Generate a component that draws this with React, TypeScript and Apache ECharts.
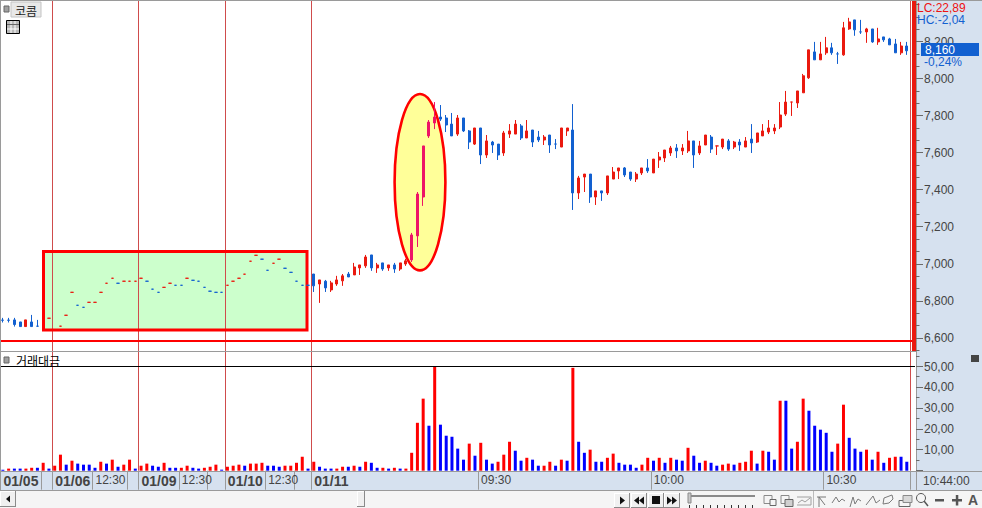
import React, { useEffect, useRef } from "react";
import * as echarts from "echarts";

// [open, close, low, high], one row per bar; null where no mark can be seen
const priceBars: (number[] | null)[] = [
  [6697,6696,6684,6709],[6697,6696,6684,6709],[6698,6673,6662,6709],[6687,6662,6662,6687],[6662,6698,6662,6698],
  [6687,6662,6662,6725],[6664,6664,6662,6698],null,[6707,6707,6707,6707],null,
  [6664,6664,6664,6664],[6723,6723,6723,6723],[6847,6847,6847,6847],[6777,6777,6777,6777],[6766,6766,6766,6766],
  [6793,6793,6793,6793],[6793,6793,6793,6793],[6847,6847,6847,6847],[6896,6896,6896,6896],[6923,6923,6923,6923],
  [6896,6896,6896,6896],[6907,6907,6907,6907],[6907,6907,6907,6907],[6907,6907,6907,6907],[6923,6923,6923,6923],
  [6907,6907,6907,6907],[6864,6864,6864,6864],[6847,6847,6847,6847],[6874,6874,6874,6874],[6896,6896,6896,6896],
  [6885,6885,6885,6885],[6885,6885,6885,6885],[6923,6923,6923,6923],[6912,6912,6912,6912],[6907,6907,6907,6907],
  [6874,6874,6874,6874],[6853,6853,6853,6853],[6847,6847,6847,6847],[6847,6847,6847,6847],[6885,6885,6885,6885],
  [6907,6907,6907,6907],[6923,6923,6923,6923],[6945,6945,6945,6945],[7015,7015,7015,7015],[7047,7047,7047,7047],
  [7026,7026,7026,7026],[6966,6966,6966,6966],[7004,7004,7004,7004],[7026,7026,7026,7026],[6977,6977,6977,6977],
  [6955,6955,6955,6955],[6907,6907,6907,6907],[6885,6885,6885,6885],[6885,6885,6885,6885],[6946,6882,6849,6946],
  [6892,6914,6790,6914],[6907,6871,6849,6914],[6860,6898,6849,6909],[6892,6914,6882,6936],[6909,6936,6882,6946],
  [6946,6930,6930,6957],[6941,6984,6941,7006],[6979,6995,6941,6995],[6990,7038,6979,7049],[7049,6979,6963,7049],
  [6979,6995,6952,7006],[7006,6973,6963,7006],[6979,6995,6963,6995],[6995,6973,6952,7006],[6973,7006,6963,7006],
  [7000,7017,6990,7028],[7022,7157,7011,7168],[7152,7378,7092,7389],[7362,7638,7314,7638],[7692,7767,7681,7778],
  [7762,7794,7729,7875],[7794,7783,7773,7859],[7789,7751,7713,7805],[7756,7692,7692,7816],[7702,7789,7692,7805],
  [7789,7719,7713,7789],[7719,7659,7621,7724],[7648,7735,7643,7735],[7735,7589,7540,7735],[7589,7665,7573,7697],
  [7659,7643,7600,7665],[7648,7589,7562,7648],[7600,7708,7584,7719],[7702,7719,7681,7756],[7702,7756,7702,7778],
  [7746,7681,7670,7756],[7681,7719,7681,7778],[7724,7659,7632,7724],[7686,7670,7659,7719],[7670,7686,7643,7697],
  [7697,7643,7600,7697],[7648,7648,7621,7675],[7632,7735,7632,7735],[7719,7735,7692,7735],[7724,7384,7292,7864],
  [7384,7465,7351,7476],[7470,7486,7389,7486],[7486,7362,7330,7486],[7362,7395,7319,7395],[7395,7384,7341,7395],
  [7384,7476,7373,7476],[7459,7497,7459,7524],[7503,7519,7459,7519],[7519,7481,7470,7524],[7497,7459,7449,7497],
  [7459,7486,7443,7497],[7492,7519,7481,7519],[7519,7503,7492,7567],[7492,7567,7492,7567],[7562,7578,7519,7605],
  [7573,7616,7551,7616],[7600,7627,7584,7638],[7627,7611,7573,7648],[7611,7627,7589,7648],[7611,7665,7600,7719],
  [7665,7589,7519,7665],[7600,7638,7589,7665],[7643,7697,7643,7697],[7686,7621,7600,7697],[7638,7638,7589,7638],
  [7632,7675,7621,7675],[7665,7621,7611,7675],[7632,7659,7621,7665],[7659,7643,7611,7675],[7632,7665,7632,7686],
  [7675,7654,7600,7756],[7659,7708,7654,7708],[7692,7719,7692,7756],[7713,7735,7702,7778],[7719,7735,7702,7756],
  [7740,7805,7729,7875],[7810,7875,7800,7935],[7875,7875,7800,7875],[7870,7935,7843,7935],[7925,8017,7925,8027],
  [8006,8157,8000,8157],[8146,8103,8103,8200],[8103,8135,8103,8200],[8141,8168,8130,8227],[8168,8141,8130,8195],
  [8135,8135,8081,8146],[8130,8276,8125,8308],[8270,8308,8265,8330],[8319,8265,8233,8319],[8254,8254,8243,8319],
  [8254,8270,8195,8276],[8270,8200,8195,8270],[8200,8216,8184,8276],[8227,8211,8200,8227],[8216,8184,8184,8222],
  [8189,8141,8141,8216],[8141,8178,8130,8200],[8178,8152,8130,8200],
];

// r red, b blue, m magenta (inside the ellipse)
const priceBarTones =
  "bbbbrbbbrr" + "rrrbbrrrrr" + "brrrrbbbrr" + "bbrbbbbbbr" + "rrrrrbbrrb" +
  "bbbbbrbrrr" + "brrrbrbrbr" + "rmmmmmbbbr" + "bbrbrbbrrr" + "brbbrbbrrb" +
  "rrbrbrrrbb" + "rrbrrrrbrr" + "brrbrrbrbr" + "brrrrrrrrr" + "rbrrbbrrbb" +
  "rbrbbbrb";

const turnover = [
  0.5,1,1,1,1,1.4,1.4,3.8,1,2.4, 7.7,2.9,4.8,3.4,2.9,2.9,1.4,4.3,3.4,5.3,
  1.9,2.9,5.3,1,2.4,3.4,2.4,1.9,3.8,1.4, 1.4,1.4,2.4,1.4,1,1.4,1.9,2.9,0.5,1.9,
  2.4,2.9,2.4,3.4,3.4,3.8,2.4,2.4,1.9,2.4, 2.4,3.8,6.7,1,4.3,1.9,1,1,1,1.9,
  1.9,2.4,1.9,4.3,3.8,1.4,1.4,1,1.4,1, 1,8.6,23,34.6,21.6,50,22.1,16.8,16.3,10.6,
  5.3,13,7.2,13.4,5.3,3.4,4.3,7.7,13.9,9.6, 4.8,6.2,5.3,2.4,2.4,4.3,2.4,5.3,4.8,49.4,
  13.9,8.6,10.1,4.3,4.3,6.2,8.2,3.8,2.9,2.9, 1.4,2.9,6.2,4.8,6.2,3.8,6.2,5.3,4.8,11,
  7.2,3.8,4.8,3.8,2.4,2.9,3.4,2.9,3.8,4.3, 9.6,3.4,9.6,9.1,5.3,33.6,33.6,10.6,13.9,34.6,
  28.8,21.6,19.7,18.2,9.1,13,31.7,15.8,10.6,9.1, 10.1,5.3,9.1,3.8,6.2,6.7,6.7,4.3,
];

const turnoverTones =
  "brbbrrbrbr" + "rbrbbbbrbr" + "brrbrrbbrb" + "brrbbrrrbr" + "rrbrrrbbbr" +
  "rrrbrbbbrr" + "brbrbbrbrb" + "rrrrbrbbbb" + "brbrbbrrrb" + "brbbrrbrbr" +
  "bbrbbrrbbb" + "brrbrbrbbr" + "bbrbbrrbrr" + "rbrbbrbbrr" + "bbbbbrrbbb" +
  "rbrbrrbb";

const dateStarts = [
  { index: 0, text: "01/05", bold: true },
  { index: 7, text: "", bold: false },
  { index: 9, text: "01/06", bold: true },
  { index: 16, text: "12:30", bold: false },
  { index: 22, text: "", bold: false },
  { index: 24, text: "01/09", bold: true },
  { index: 31, text: "12:30", bold: false },
  { index: 36, text: "", bold: false },
  { index: 39, text: "01/10", bold: true },
  { index: 46, text: "12:30", bold: false },
  { index: 51, text: "", bold: false },
  { index: 54, text: "01/11", bold: true },
  { index: 83, text: "09:30", bold: false },
  { index: 113, text: "10:00", bold: false },
  { index: 143, text: "10:30", bold: false },
];
const sessionStarts = [9, 24, 39, 54];

const priceTicks = [6600, 6800, 7000, 7200, 7400, 7600, 7800, 8000, 8200];
const priceMinorTicks = [
  6533, 6667, 6733, 6867, 6933, 7067, 7133, 7267, 7333, 7467, 7533, 7667, 7733,
  7867, 7933, 8067, 8133, 8267, 8333, 8400,
];
const turnoverTicks = [0, 10, 20, 30, 40, 50];
const turnoverMinorTicks = [5, 15, 25, 35, 45, 55];

const RED = "#ea190f";
const BLUE = "#1260d0";
const MAGENTA = "#ee1466";
const GRAY = "#9a9a9a";
const PANEL = "#d6e1ef";
const INK = "#444444";
const TICK = "#6a6a6a";
const AXIS_FONT = '"Liberation Sans",sans-serif';

const toneColor: Record<string, string> = { r: RED, b: BLUE, m: MAGENTA };
const categories = turnover.map((_, i) => String(i));
const startOf = new Map(dateStarts.map((d) => [d.index, d]));

const rect = (x: number, y: number, w: number, h: number, fill: string, z = 6, stroke?: string) => ({
  type: "rect", z, silent: true,
  shape: { x, y, width: w, height: h },
  style: { fill, stroke, lineWidth: stroke ? 1 : 0 },
});
const line = (x1: number, y1: number, x2: number, y2: number, stroke: string, lineWidth = 1, z = 6) => ({
  type: "line", z, silent: true,
  shape: { x1, y1, x2, y2 },
  style: { stroke, lineWidth },
});
const label = (x: number, y: number, text: string, fill: string, font: string, z = 8, align = "left") => ({
  type: "text", z, silent: true, x, y,
  style: { text, fill, font, verticalAlign: "middle", align },
});
const tri = (points: number[][], fill = "#111111") => ({
  type: "polygon", z: 8, silent: true, shape: { points }, style: { fill },
});
const outline = (points: number[][], stroke = "#7a7a7a") => ({
  type: "polyline", z: 8, silent: true, shape: { points }, style: { stroke, lineWidth: 1, fill: "none" },
});
const button = (x: number, y: number, w: number, h: number) => [
  rect(x, y, w, h, "#f0f0f0", 7),
  line(x, y + 0.5, x + w, y + 0.5, "#ffffff", 1, 7),
  line(x + 0.5, y, x + 0.5, y + h, "#ffffff", 1, 7),
  line(x, y + h - 0.5, x + w, y + h - 0.5, "#8a8a8a", 1, 7),
  line(x + w - 0.5, y, x + w - 0.5, y + h, "#8a8a8a", 1, 7),
];

const decorations = (): any[] => [
  // panels behind the plot
  rect(916, 0, 66, 472, PANEL, -2),
  rect(0, 472, 982, 18, PANEL, -2),
  rect(0, 491, 982, 17, "#f5f5f5", 6),
  line(0, 0.5, 982, 0.5, GRAY),
  line(0.5, 0, 0.5, 490, GRAY),
  line(0, 351.5, 916, 351.5, GRAY),
  line(0, 471.5, 982, 471.5, GRAY),
  line(0, 490.5, 982, 490.5, GRAY),
  line(916.5, 0, 916.5, 490, GRAY),
  // annotations
  { type: "rect", z: -1, silent: true, shape: { x: 43.5, y: 251.5, width: 263.5, height: 78.5 }, style: { fill: "#ccffcc" } },
  { type: "rect", z: 1, silent: true, shape: { x: 43.5, y: 251.5, width: 263.5, height: 78.5 }, style: { fill: "none", stroke: "#ff0000", lineWidth: 3 } },
  { type: "ellipse", z: 1, silent: true, shape: { cx: 420, cy: 182.2, rx: 25.4, ry: 88.2 }, style: { fill: "#ffff99", stroke: "#ff0000", lineWidth: 2.6 } },
  line(0, 341, 913, 341, "#ff0000", 2, 5),
  rect(912, 0, 4, 351, RED, 5),
  line(0, 366.5, 915, 366.5, "#000000", 1, 5),
  // headers
  rect(4, 6, 5, 6, "#a0a0a0", 8, "#666666"),
  rect(11, 2, 30, 15, "#e8e8e8", 7, "#c4c4c4"),
  label(15, 10, "코콤", "#222222", '12px "Noto Sans CJK KR"'),
  rect(6.5, 20.5, 13, 13, "#b8b8b8", 7, "#000000"),
  line(11, 21, 11, 33, "#ffffff", 1, 8),
  line(15, 21, 15, 33, "#ffffff", 1, 8),
  line(7, 24.5, 19, 24.5, "#666666", 1, 8),
  line(7, 29, 19, 29, "#ffffff", 1, 8),
  rect(4, 357, 5, 6, "#a0a0a0", 8, "#666666"),
  label(16, 360, "거래대금", "#000000", '12px "Noto Sans CJK KR"'),
  rect(971, 355, 8, 7, "#444444", 8),
  label(917, 8, "LC:22,89", "#ee1111", `12px ${AXIS_FONT}`),
  label(917, 20, "HC:-2,04", BLUE, `12px ${AXIS_FONT}`),
  rect(921, 43, 58, 13, BLUE, 7),
  label(925, 49.5, "8,160", "#ffffff", `12px ${AXIS_FONT}`),
  label(924, 62, "-0,24%", BLUE, `12px ${AXIS_FONT}`),
  label(923, 481, "10:44:00", INK, `12px ${AXIS_FONT}`),
  // scroll bar
  ...button(0, 491, 16, 16),
  tri([[6, 499], [10, 495.5], [10, 502.5]]),
  ...button(357, 491, 8, 16),
  // player buttons
  ...button(614, 493, 16, 15),
  tri([[620, 496.5], [625, 500.5], [620, 504.5]]),
  ...button(631, 493, 16, 15),
  tri([[634, 500.5], [639, 496.5], [639, 504.5]]),
  tri([[639, 500.5], [644, 496.5], [644, 504.5]]),
  ...button(648, 493, 16, 15),
  rect(652, 496, 8, 8, "#111111", 8),
  ...button(664, 493, 16, 15),
  tri([[667, 496.5], [672, 500.5], [667, 504.5]]),
  tri([[672, 496.5], [677, 500.5], [672, 504.5]]),
  // zoom slider
  rect(690, 495, 65, 2, "#8a8a8a", 8),
  rect(688, 493, 3, 10, "#c8c8c8", 8, "#8a8a8a"),
  ...[689, 696, 703, 710, 717, 724, 731, 738, 745, 752].map((x) => line(x + 0.5, 505, x + 0.5, 508, "#333333", 1, 8)),
  // tool icons
  rect(764, 495.5, 8, 8, "#f5f5f5", 8, "#8a8a8a"),
  rect(770, 499.5, 6, 6, "#f5f5f5", 8, "#666666"),
  rect(781, 495.5, 8, 8, "#f5f5f5", 8, "#8a8a8a"),
  rect(785, 499.5, 8, 7, "#d0d0d0", 8, "#666666"),
  outline([[797, 497], [811, 497], [811, 505], [797, 505]], "#a0a0a0"),
  outline([[798, 503], [802, 500], [805, 502], [810, 498]], "#a0a0a0"),
  line(813.5, 491, 813.5, 508, "#bbbbbb"),
  outline([[817, 497], [826, 497]], "#777777"),
  outline([[819, 507], [819, 497], [825, 505]], "#777777"),
  outline([[832, 503], [836, 497], [839, 502], [842, 499], [845, 501]]),
  outline([[850, 507], [853, 497], [855, 504], [858, 499], [861, 501]]),
  outline([[866, 505], [873, 496], [876, 503], [880, 500]]),
  outline([[883, 504], [884, 498], [892, 495], [893, 499], [889, 503], [883, 504]]),
  rect(899, 500.5, 11, 6, "#f5f5f5", 8, "#666666"),
  rect(903, 495.5, 9, 7, "#d8d8d8", 8, "#8a8a8a"),
  { type: "circle", z: 8, silent: true, shape: { cx: 921, cy: 498, r: 4.5 }, style: { fill: "none", stroke: "#555555", lineWidth: 1 } },
  line(924, 501, 928, 506, "#555555", 1.5, 8),
  rect(935, 499, 9, 2.5, "#555555", 8),
  rect(952, 499, 10, 2.5, "#555555", 8),
  rect(955.8, 495, 2.5, 10.5, "#555555", 8),
  label(973, 500, "A", "#555555", 'bold 14px "Liberation Sans"', 8, "center"),
];

const candleSeries = (keep: (bar: number[]) => boolean, barWidth: number) => ({
  type: "candlestick", xAxisIndex: 0, yAxisIndex: 0, barWidth, z: 3, clip: false,
  data: priceBars.map((bar, i) => {
    if (!bar || !keep(bar)) return { value: ["-", "-", "-", "-"] };
    const c = toneColor[priceBarTones[i]];
    return {
      value: bar,
      itemStyle: { color: c, color0: c, borderColor: c, borderColor0: c, borderColorDoji: c, borderWidth: 1 },
    };
  }),
});

export default function App() {
  const ref = useRef<HTMLDivElement>(null);
  useEffect(() => {
    const chart = echarts.init(ref.current!, undefined, { renderer: "svg" });
    chart.setOption({
      animation: false,
      backgroundColor: "#ffffff",
      grid: [
        { left: -0.42, width: 910.1, top: 1, height: 350 },
        { left: -0.42, width: 910.1, top: 352, height: 118.7 },
        { left: 0.5, width: 909.4, top: 1, height: 469.7 },
      ],
      xAxis: [
        {
          gridIndex: 0, type: "category", data: categories, boundaryGap: true,
          axisLine: { show: false }, axisTick: { show: false }, axisLabel: { show: false }, splitLine: { show: false },
        },
        {
          gridIndex: 1, type: "category", data: categories, boundaryGap: true,
          axisLine: { show: false }, axisTick: { show: false }, axisLabel: { show: false }, splitLine: { show: false },
        },
        {
          gridIndex: 2, type: "category", data: categories, boundaryGap: true,
          axisLine: { show: false },
          axisTick: {
            show: true, length: 19,
            interval: (i: number) => startOf.has(i),
            lineStyle: { color: GRAY, width: 1 },
          },
          axisLabel: {
            show: true, margin: 3, align: "left", color: INK, fontSize: 12, fontFamily: AXIS_FONT,
            interval: (i: number) => startOf.has(i),
            formatter: (v: string) => {
              const d = startOf.get(Number(v));
              if (!d) return "";
              return d.bold ? `{b|${d.text}}` : d.text;
            },
            rich: { b: { fontWeight: "bold", fontSize: 14, color: INK, fontFamily: AXIS_FONT } },
          },
          splitLine: {
            show: true,
            interval: (i: number) => sessionStarts.includes(i),
            lineStyle: { color: "#cf4c4c", width: 1 },
          },
        },
      ],
      yAxis: [
        {
          gridIndex: 0, type: "value", position: "right", offset: 6.3, min: 6530, max: 8421,
          splitLine: { show: false }, axisLine: { show: false }, axisTick: { show: false },
          axisLabel: {
            show: true, margin: 8, color: INK, fontSize: 12, fontFamily: AXIS_FONT,
            customValues: priceTicks,
            formatter: (v: number) => v.toLocaleString("en-US"),
          },
        },
        {
          gridIndex: 1, type: "value", position: "right", offset: 6.3, min: 0, max: 57,
          splitLine: { show: false }, axisLine: { show: false }, axisTick: { show: false },
          axisLabel: {
            show: true, margin: 8, color: INK, fontSize: 12, fontFamily: AXIS_FONT,
            customValues: turnoverTicks.filter((v) => v > 0),
            formatter: (v: number) => `${v},00`,
          },
        },
        { gridIndex: 2, type: "value", min: 0, max: 1, show: false },
      ],
      series: [
        candleSeries((b) => b[0] !== b[1], 2.5),
        candleSeries((b) => b[0] === b[1], 3),
        {
          type: "bar", xAxisIndex: 1, yAxisIndex: 1, barWidth: 3,
          data: turnover.map((v, i) => ({
            value: v,
            itemStyle: { color: turnoverTones[i] === "r" ? "#ff0000" : "#0000ff" },
          })),
        },
      ],
    });
    // the axis ticks take their positions from the chart's own value scales
    const tickMarks = (yAxisIndex: number, values: number[], length: number) =>
      values.map((v) => {
        const y = Math.floor(chart.convertToPixel({ yAxisIndex }, v) as number) + 0.5;
        return line(916, y, 916 + length, y, TICK, 1, 7);
      });
    chart.setOption({
      graphic: {
        elements: [
          ...decorations(),
          ...tickMarks(0, priceTicks, 7),
          ...tickMarks(0, priceMinorTicks, 3.5),
          ...tickMarks(1, turnoverTicks, 7),
          ...tickMarks(1, turnoverMinorTicks, 3.5),
        ],
      },
    });
    return () => chart.dispose();
  }, []);
  return <div ref={ref} style={{ position: "fixed", left: 0, top: 0, width: 982, height: 508 }} />;
}
